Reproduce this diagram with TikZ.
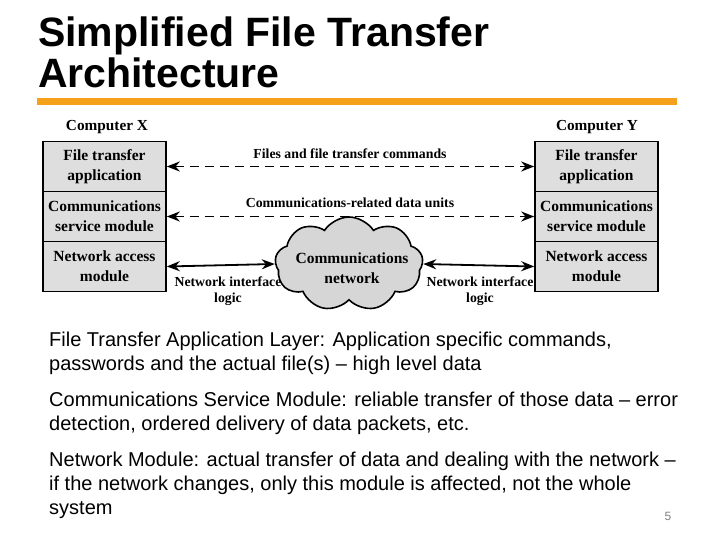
\documentclass[tikz,border=0pt]{standalone}
\usepackage{fontspec}
\setmainfont{Liberation Sans}
\newfontfamily\serifb{Liberation Serif}
\usetikzlibrary{shapes.symbols,arrows.meta}
\definecolor{boxgray}{HTML}{DEDEDE}
\definecolor{cloudgray}{HTML}{D6D6D6}
\definecolor{orangebar}{HTML}{F5A11C}
\begin{document}
\begin{tikzpicture}[x=1pt,y=-1pt,
  layer/.style={draw, line width=1.6pt, fill=boxgray, minimum width=123pt, minimum height=50pt,
    inner sep=0pt, align=center, font=\serifb\bfseries\fontsize{15.5}{20}\selectfont},
  comp/.style={font=\serifb\bfseries\fontsize{15.3}{18}\selectfont, inner sep=0pt},
  lbl/.style={font=\serifb\bfseries\fontsize{13.8}{16}\selectfont, inner sep=0pt, align=center},
  link/.style={line width=1.8pt, {Stealth[length=13pt,width=10pt]}-{Stealth[length=13pt,width=10pt]}},
  dlink/.style={link, dash pattern=on 9pt off 6pt},
  title/.style={font=\bfseries\fontsize{41}{41}\selectfont, anchor=base west, inner sep=0pt},
  body/.style={font=\fontsize{20}{24}\selectfont, anchor=base west, inner sep=0pt}
]
\useasboundingbox (0,0) rectangle (720,540);
\fill[white] (0,0) rectangle (720,540);

% title
\node[title] (t1) at (38,47) {Simplified File Transfer};
\node[title] (t2) at (38,88) {Architecture};
\fill[orangebar] (37,98) rectangle (677,105);

% computer X
\node[comp] (cx) at (107,127) {Computer X};
\node[layer] (x1) at (104.5,166.5) {File transfer\\application};
\node[layer] (x2) at (104.5,216.5) {Communications\\service module};
\node[layer] (x3) at (104.5,266.5) {Network access\\module};

% computer Y
\node[comp] (cy) at (597,127) {Computer Y};
\node[layer] (y1) at (596.5,166.5) {File transfer\\application};
\node[layer] (y2) at (596.5,216.5) {Communications\\service module};
\node[layer] (y3) at (596.5,266.5) {Network access\\module};

% cloud
\node[cloud, draw, line width=1.6pt, fill=cloudgray, cloud puffs=9, cloud puff arc=115, aspect=1.75,
  minimum width=148pt, minimum height=94pt, inner sep=0pt] (net) at (349,264) {};
\node[align=center, inner sep=0pt, font=\serifb\bfseries\fontsize{15.5}{20}\selectfont] (nettxt) at (352,268) {Communications\\network};

% connectors
\draw[dlink] (x1.east) -- (y1.west);
\draw[dlink] (x2.east) -- (y2.west);
\draw[link] (x3.east) -- (net.west);
\draw[link] (net.east) -- (y3.west);

\node[lbl] (l1) at (350,154) {Files and file transfer commands};
\node[lbl] (l2) at (350,203) {Communications-related data units};
\node[lbl] (nl) at (228,291) {Network interface\\logic};
\node[lbl] (nr) at (480,291) {Network interface\\logic};

% body text
\node[body] (b1) at (49,346) {File Transfer Application Layer: Application specific commands,};
\node[body] (b2) at (49,370) {passwords and the actual file(s) -- high level data};
\node[body] (b3) at (49,406) {Communications Service Module: reliable transfer of those data -- error};
\node[body] (b4) at (49,430) {detection, ordered delivery of data packets, etc.};
\node[body] (b5) at (49,466) {Network Module: actual transfer of data and dealing with the network --};
\node[body] (b6) at (49,490) {if the network changes, only this module is affected, not the whole};
\node[body] (b7) at (49,514) {system};
\node[font=\fontsize{12}{12}\selectfont, text=gray, anchor=base, inner sep=0pt] (pg) at (668,520) {5};
\end{tikzpicture}
\end{document}
